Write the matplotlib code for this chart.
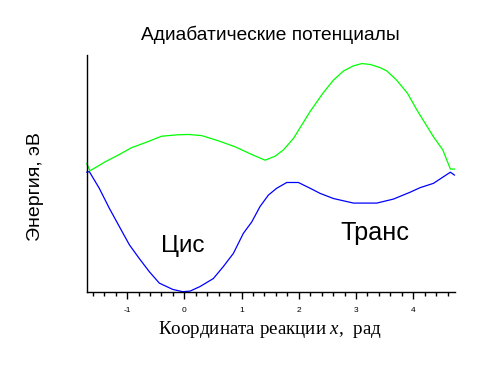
import matplotlib
matplotlib.use("Agg")
import matplotlib.pyplot as plt
from matplotlib.ticker import MultipleLocator

plt.rcParams["mathtext.fontset"] = "custom"
plt.rcParams["mathtext.it"] = "Liberation Serif:italic"
plt.rcParams["mathtext.rm"] = "Liberation Serif"

# Lower adiabatic potential (blue)
x_lower = [-1.706, -1.660, -1.487, -1.311, -1.136, -0.960, -0.787, -0.612, -0.437, -0.203,
           -0.030, 0.100, 0.274, 0.507, 0.682, 0.857, 1.031, 1.178, 1.323, 1.469,
           1.615, 1.790, 1.993, 2.197, 2.372, 2.605, 2.955, 3.364, 3.654, 3.946,
           4.121, 4.353, 4.649, 4.720]
e_lower = [2.09, 2.10, 1.81, 1.46, 1.14, 0.82, 0.58, 0.35, 0.15, 0.04,
           0.0, 0.01, 0.09, 0.23, 0.44, 0.67, 1.02, 1.22, 1.49, 1.69,
           1.81, 1.91, 1.91, 1.81, 1.72, 1.63, 1.55, 1.55, 1.62, 1.74,
           1.82, 1.895, 2.09, 2.04]

# Upper adiabatic potential (green)
x_upper = [-1.706, -1.649, -1.386, -1.154, -0.920, -0.687, -0.395, -0.105, 0.070, 0.304,
           0.594, 0.886, 1.178, 1.411, 1.586, 1.731, 1.906, 2.197, 2.420, 2.605,
           2.780, 2.955, 3.100, 3.247, 3.420, 3.540, 3.710, 3.900, 4.063, 4.353,
           4.517, 4.649, 4.720]
e_upper = [2.245, 2.115, 2.27, 2.39, 2.52, 2.605, 2.72, 2.745, 2.75, 2.73,
           2.64, 2.535, 2.40, 2.30, 2.37, 2.48, 2.68, 3.15, 3.47, 3.70,
           3.86, 3.95, 3.99, 3.975, 3.92, 3.86, 3.70, 3.47, 3.18, 2.71,
           2.48, 2.145, 2.145]

xticks = [-1, 0, 1, 2, 3, 4]
xticklabels = ["-1", "0", "1", "2", "3", "4"]

W, H = 479, 368
fig = plt.figure(figsize=(W / 100, H / 100), dpi=100)
ax = fig.add_axes([86.7 / W, 1 - 291.7 / H, (455 - 86.7) / W, (291.7 - 55) / H])

ax.plot(x_upper, e_upper, color="#00ff00", lw=0.9, clip_on=False)
ax.plot(x_lower, e_lower, color="#0000ff", lw=0.9, clip_on=False)

ax.set_xlim(-1.706, 4.73)
ax.set_ylim(0, 4.14)
ax.spines["top"].set_visible(False)
ax.spines["right"].set_visible(False)
ax.spines["left"].set_linewidth(1.0)
ax.spines["bottom"].set_linewidth(1.0)
ax.set_yticks([])
ax.set_xticks(xticks)
ax.set_xticklabels(xticklabels, fontsize=6, family="Liberation Sans")
ax.xaxis.set_minor_locator(MultipleLocator(0.2))
ax.tick_params(axis="x", which="major", length=5, width=1, pad=6)
ax.tick_params(axis="x", which="minor", length=3, width=1)

fig.text(270.8 / W, 1 - 35 / H, "Адиабатические потенциалы", ha="center", va="center",
         fontsize=13.8, family="Liberation Sans")
fig.text(35 / W, 1 - 186.7 / H, "Энергия, эВ", ha="center", va="center", rotation=90,
         fontsize=14, family="Liberation Sans")
fig.text(270 / W, 1 - 330 / H, r"Координата реакции $x$,  рад", ha="center", va="center",
         fontsize=13.7, family="Liberation Serif")
fig.text(160.7 / W, 1 - 246 / H, "Цис", ha="left", va="center", fontsize=17.5,
         family="Liberation Sans")
fig.text(340 / W, 1 - 233 / H, "Транс", ha="left", va="center", fontsize=18.2,
         family="Liberation Sans")

fig.savefig("out.png", dpi=100)
